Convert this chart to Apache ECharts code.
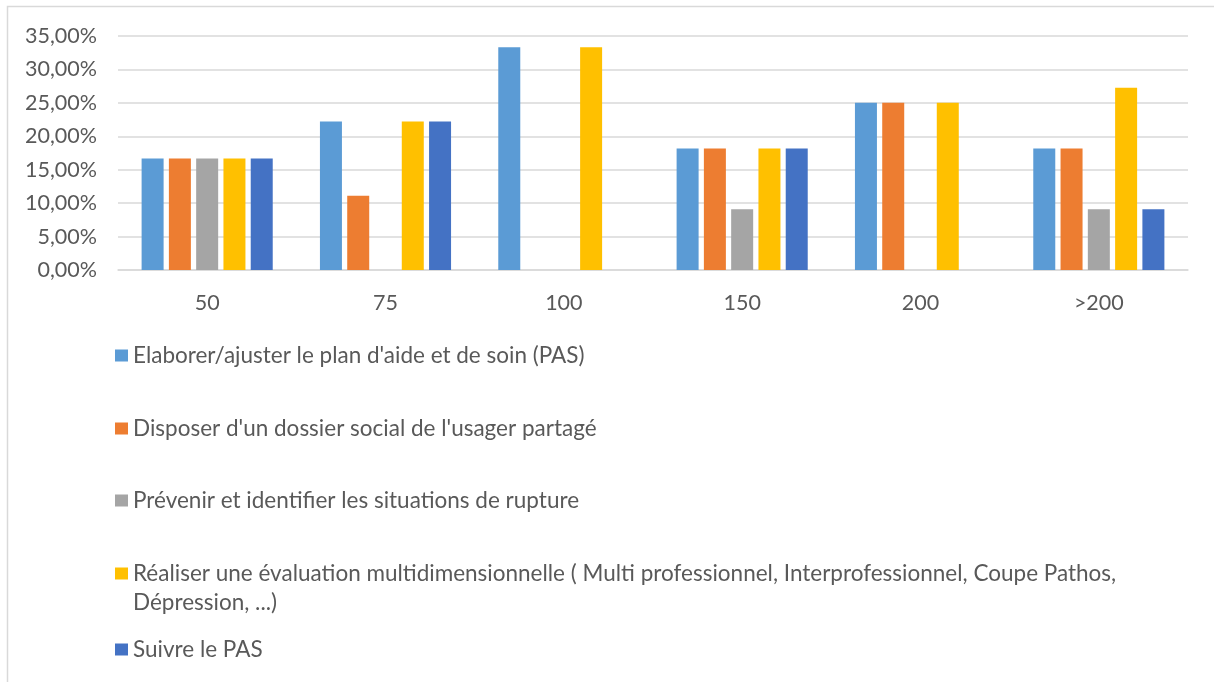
<!DOCTYPE html>
<html>
<head>
<meta charset="utf-8">
<script src="https://cdn.jsdelivr.net/npm/echarts@6/dist/echarts.min.js"></script>
<style>
    html, body { margin: 0; padding: 0; background: #fff; }
    #chart { width: 1214px; height: 682px; }
</style>
</head>
<body>
<div id="chart"></div>
<script>
const categories = ['50', '75', '100', '150', '200', '>200']
const seriesNames = [
    'Elaborer/ajuster le plan d\'aide et de soin (PAS)',
    'Disposer d\'un dossier social de l\'usager partagé',
    'Prévenir et identifier les situations de rupture',
    'Réaliser une évaluation multidimensionnelle ( Multi professionnel, Interprofessionnel, Coupe Pathos, Dépression, ...)',
    'Suivre le PAS'
]
// valeurs en %
const elaborer = [16.67, 22.22, 33.33, 18.18, 25.00, 18.18]
const disposer = [16.67, 11.11, 0, 18.18, 25.00, 18.18]
const prevenir = [16.67, 0, 0, 9.09, 0, 9.09]
const realiser = [16.67, 22.22, 33.33, 18.18, 25.00, 27.27]
const suivre = [16.67, 22.22, 0, 18.18, 0, 9.09]
const yTicks = [0, 5, 10, 15, 20, 25, 30, 35]

const colors = ['#5B9BD5', '#ED7D31', '#A5A5A5', '#FFC000', '#4472C4']
const values = [elaborer, disposer, prevenir, realiser, suivre]
const font = 'Lato'
const textColor = '#595959'

const chart = echarts.init(document.getElementById('chart'))

// centre vertical de chaque entrée de légende
const legendCenters = [356, 429, 501, 575, 650]

const option = {
    animation: false,
    color: colors,
    graphic: [{
        type: 'rect',
        shape: { x: 7.5, y: 6.5, width: 1400, height: 1000 },
        style: { fill: 'none', stroke: '#D9D9D9', lineWidth: 1.5 },
        silent: true
    }],
    grid: {
        left: 118,
        right: 26,
        top: 36,
        height: 234
    },
    legend: seriesNames.map((name, i) => {
        const twoLines = i === 3
        return {
            data: [name],
            orient: 'vertical',
            left: 115,
            top: twoLines ? legendCenters[i] - 45 : legendCenters[i] - 15,
            padding: 0,
            itemWidth: 13,
            itemHeight: 12,
            icon: 'rect',
            selectedMode: false,
            // ligne vide en tête pour que le carré reste sur la 1re ligne
            formatter: twoLines
                ? () => '\nRéaliser une évaluation multidimensionnelle ( Multi professionnel, Interprofessionnel, Coupe Pathos,\nDépression, ...)'
                : undefined,
            textStyle: {
                fontFamily: font,
                fontSize: 22.5,
                color: textColor,
                lineHeight: 29
            }
        }
    }),
    xAxis: {
        type: 'category',
        data: categories,
        axisLine: { lineStyle: { color: '#D9D9D9', width: 1.5 } },
        axisTick: { show: false },
        axisLabel: {
            margin: 22,
            fontFamily: font,
            fontSize: 21.5,
            color: textColor
        }
    },
    yAxis: {
        type: 'value',
        min: yTicks[0],
        max: yTicks[yTicks.length - 1],
        interval: 5,
        axisLine: { show: false },
        axisTick: { show: false },
        splitLine: { lineStyle: { color: '#D9D9D9', width: 1.5 } },
        axisLabel: {
            margin: 21,
            fontFamily: font,
            fontSize: 21.5,
            color: textColor,
            formatter: v => v.toFixed(2).replace('.', ',') + '%'
        }
    },
    series: seriesNames.map((name, i) => ({
        name: name,
        type: 'bar',
        barWidth: 22,
        barGap: '24%',
        data: values[i]
    }))
}

chart.setOption(option)
</script>
</body>
</html>
